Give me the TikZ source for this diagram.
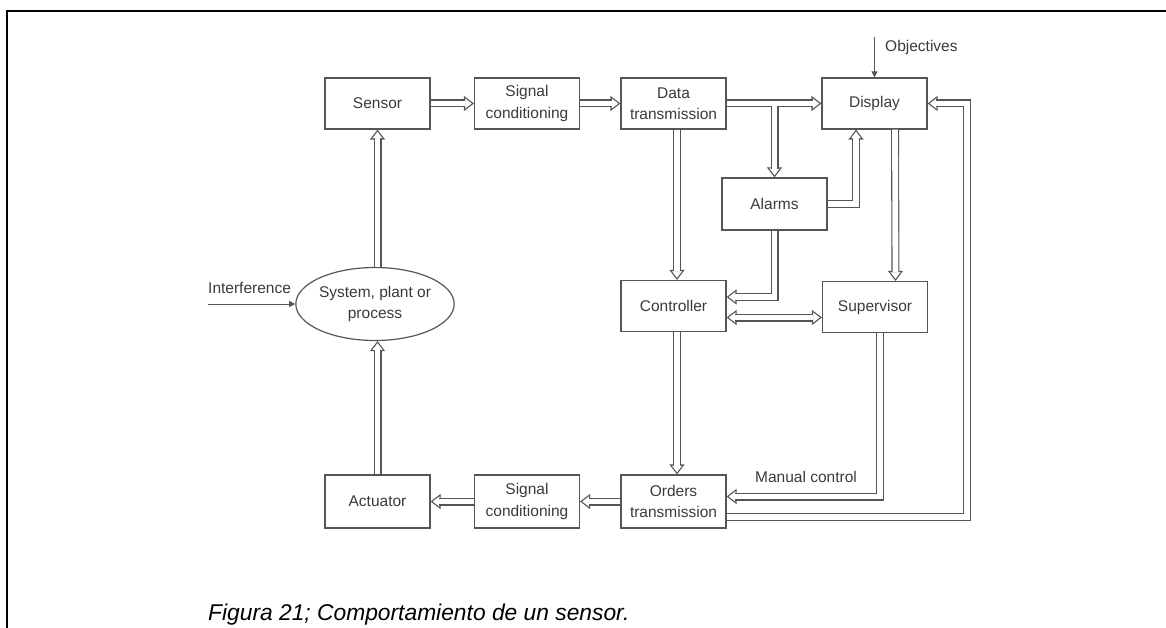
\documentclass[tikz,border=0pt]{standalone}
\usepackage{fontspec}
\setmainfont{Liberation Sans}
\usetikzlibrary{arrows.meta,calc,shapes.geometric}

\definecolor{ink}{HTML}{555555}
\definecolor{txt}{HTML}{3A3A3A}

\newcommand\lblfont{\fontsize{15.5}{21.5}\selectfont}
\newcommand\capfont{\fontsize{22.8}{26}\selectfont\itshape}

% a hollow double-line connector: open tip first, then the white-cored pipe over it
\newcommand\pipeconn[1]{%
  \draw[tipped] #1;
  \draw[pipe, shorten >=8.8pt] #1;}

\begin{document}
\begin{tikzpicture}[x=1pt, y=-1pt,
  box/.style={draw=ink, line width=1.2pt, minimum width=105pt, minimum height=51pt,
              inner sep=0pt, align=center, text=txt, font=\lblfont},
  plantbox/.style={ellipse, draw=ink, line width=1.2pt, minimum width=137pt,
              minimum height=73pt, inner sep=0pt, align=center, text=txt, font=\lblfont},
  lbl/.style={text=txt, font=\lblfont, inner sep=0pt},
  pipe/.style={draw=ink, line width=1.1pt, double=white, double distance=5.8pt},
  tipped/.style={draw=ink, line width=1.1pt, -{Triangle[open, length=10pt, width=15pt]}},
  twotipped/.style={draw=ink, line width=1.1pt,
      {Triangle[open, length=10pt, width=15pt]}-{Triangle[open, length=10pt, width=15pt]}},
  thinarrow/.style={draw=ink, line width=0.9pt, -{Triangle[length=6pt, width=6pt]}},
]
\useasboundingbox (0,0) rectangle (1166,628);

% page frame
\draw[line width=2.5pt, line cap=rect] (7,628) -- (7,11) -- (1166,11);

% blocks
\node[box] (sensor)     at (377.5,103.5) {Sensor};
\node[box] (scin)       at (527,103.5)   {Signal\\conditioning};
\node[box] (data)       at (673.5,103.5) {Data\\transmission};
\node[box] (display)    at (874.5,103.5) {Display};
\node[box, minimum height=52pt] (alarms) at (774.5,204) {Alarms};
\node[box] (controller) at (673.5,306)   {Controller};
\node[box] (supervisor) at (875,307)     {Supervisor};
\node[box, minimum height=53pt] (orders)  at (673.5,501.5) {Orders\\transmission};
\node[box, minimum height=53pt] (scout)   at (527,501.5)   {Signal\\conditioning};
\node[box, minimum height=53pt] (actuator) at (377.5,501.5) {Actuator};
\node[plantbox] (plant) at (375,304) {System, plant or\\process};

% free labels
\node[lbl, anchor=west] (objlbl) at (885,47) {Objectives};
\node[lbl, anchor=west] (intlbl) at (208,288) {Interference};
\node[lbl, anchor=west] (manlbl) at (755,477) {Manual control};
\node[anchor=west, inner sep=0pt, font=\capfont] (caption) at (208,615)
  {Figura 21; Comportamiento de un sensor.};

% single-line inputs
\coordinate (objtop) at (874.5,37);
\coordinate (intsrc) at (208,304);
\draw[thinarrow] (objtop) -- (display.north);
\draw[thinarrow] (intsrc) -- (plant.west);

% forward chain along the top
\pipeconn{(sensor.east) -- (scin.west)}
\pipeconn{(scin.east) -- (data.west)}

% data transmission to display, with a branch to the alarms
\coordinate (tee) at (alarms.north |- data.east);
\draw[tipped] (data.east) -- (display.west);
\draw[tipped] (tee) -- (alarms.north);
\draw[pipe] (data.east) -- ($(display.west)+(-8.8,0)$)
            (tee) -- ($(alarms.north)+(0,-8.8)$);

% data transmission down to the controller, controller down to orders
\pipeconn{($(data.south)+(3.5,0)$) -- ($(controller.north)+(3.5,0)$)}
\pipeconn{($(controller.south)+(3.5,0)$) -- ($(orders.north)+(3.5,0)$)}

% alarms to display and to controller
\pipeconn{(alarms.east) -| ($(display.south)+(-18.5,0)$)}
\pipeconn{(alarms.south) |- ($(controller.east)+(0,-9)$)}

% display to supervisor
\pipeconn{($(display.south)+(20.5,0)$) -- ($(supervisor.north)+(20.5,0)$)}

% controller <-> supervisor
\draw[twotipped] ($(controller.east)+(0,11.5)$) -- ($(supervisor.west)+(0,10.5)$);
\draw[pipe, shorten <=8.8pt, shorten >=8.8pt]
  ($(controller.east)+(0,11.5)$) -- ($(supervisor.west)+(0,10.5)$);

% manual control from the supervisor
\pipeconn{($(supervisor.south)+(5,0)$) |- ($(orders.east)+(0,-5)$)}

% orders fed back to the display
\coordinate (fbstart) at ($(orders.east)+(0,15.5)$);
\pipeconn{(fbstart) -| ($(display.east)+(39,0)$) -- (display.east)}

% backward chain along the bottom and through the plant
\pipeconn{(orders.west) -- (scout.east)}
\pipeconn{(scout.west) -- (actuator.east)}
\pipeconn{(actuator.north) -- (actuator.north |- plant.south)}
\pipeconn{(sensor.south |- plant.north) -- (sensor.south)}
\end{tikzpicture}
\end{document}
